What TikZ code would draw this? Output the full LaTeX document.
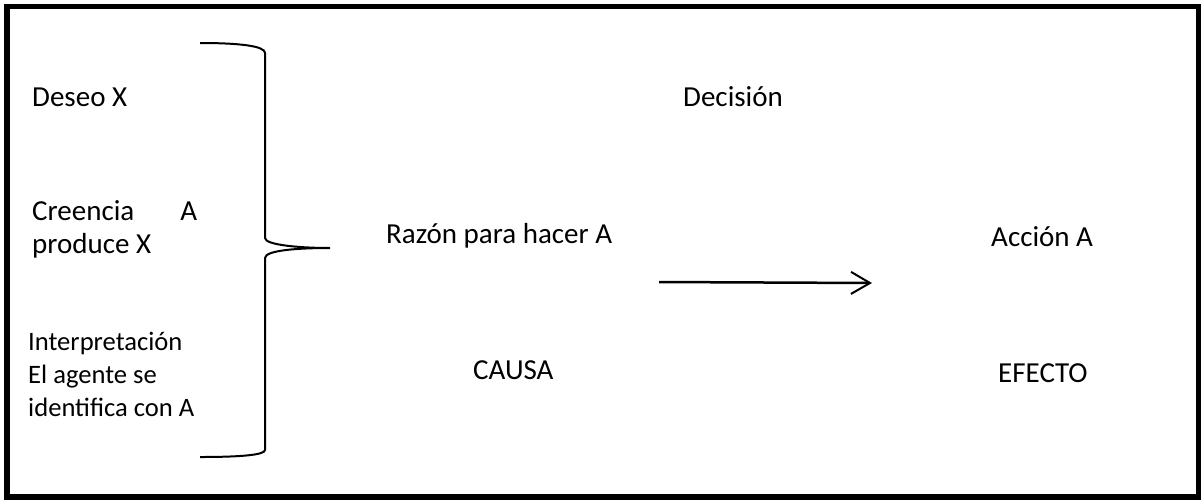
\documentclass[tikz,border=0pt]{standalone}
\usepackage{fontspec}
\setmainfont{Carlito}
\usetikzlibrary{arrows.meta}
\begin{document}
\begin{tikzpicture}[x=1pt,y=-1pt,
  lbl/.style={anchor=base west,inner sep=0pt,font=\fontsize{29}{35}\selectfont},
  small/.style={anchor=base west,inner sep=0pt,font=\fontsize{26.6}{33}\selectfont},
  frame/.style={draw=black,line width=5.5pt},
  brace/.style={draw=black,line width=2pt},
  conn/.style={draw=black,line width=2.5pt,-{Straight Barb[length=19pt,width=22pt,line width=2pt]}}]
\useasboundingbox (0,0) rectangle (1201,499);
\draw[frame] (7,6.3) rectangle (1198.5,497);
% left labels
\node[lbl] (deseo) at (32,106) {Deseo X};
\node[lbl] (creencia) at (32,220) {\hbox to 165pt{Creencia\hfill A}};
\node[lbl] (produce) at (32,253) {produce X};
\node[small] (interp1) at (28,350) {Interpretación};
\node[small] (interp2) at (28,383) {El agente se};
\node[small] (interp3) at (28,416) {identifica con A};
% brace
\coordinate (btop) at (200,43);
\coordinate (btip) at (330,248);
\coordinate (bbot) at (200,457);
\draw[brace] (btop) .. controls (240,43) and (265,46) .. (265,53) -- (265,238)
  .. controls (265,245) and (300,248) .. (btip)
  .. controls (300,248) and (265,250) .. (265,258) -- (265,450)
  .. controls (265,455) and (240,457) .. (bbot);
% right labels
\node[lbl] (decision) at (683,106) {Decisión};
\node[lbl] (razon) at (386,243) {Razón para hacer A};
\node[lbl] (causa) at (473,379) {CAUSA};
\node[lbl] (accion) at (991,246) {Acción A};
\node[lbl] (efecto) at (998,382) {EFECTO};
% arrow
\coordinate (astart) at (659,282);
\coordinate (aend) at (872,283);
\draw[conn] (astart) -- (aend);
\end{tikzpicture}
\end{document}
